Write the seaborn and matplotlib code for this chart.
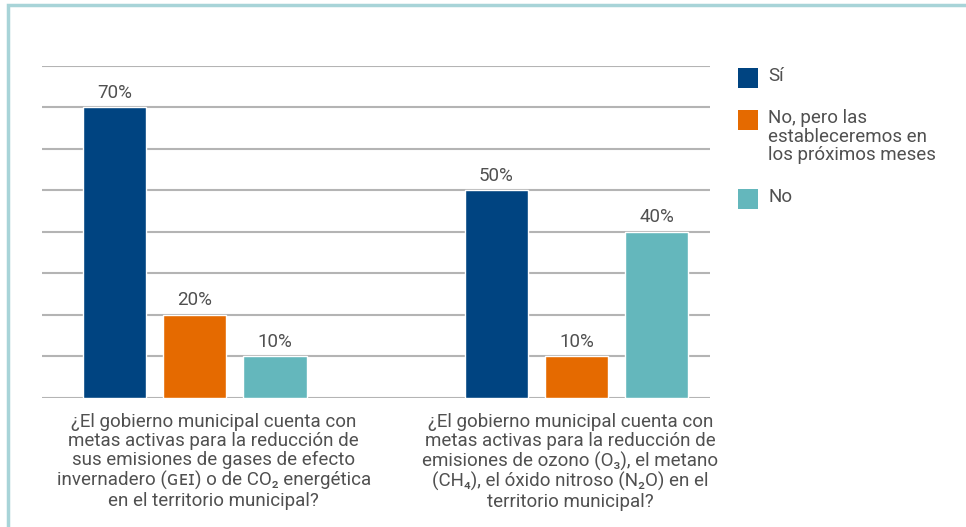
import pandas as pd
import matplotlib.pyplot as plt
import matplotlib.transforms as mtransforms
import seaborn as sns
from matplotlib.patches import Rectangle

# datos
preguntas = [
    "¿El gobierno municipal cuenta con\nmetas activas para la reducción de\nsus emisiones de gases de efecto\ninvernadero (ɢᴇɪ) o de CO₂ energética\nen el territorio municipal?",
    "¿El gobierno municipal cuenta con\nmetas activas para la reducción de\nemisiones de ozono (O₃), el metano\n(CH₄), el óxido nitroso (N₂O) en el\nterritorio municipal?",
]
respuestas = ["Sí", "No, pero las\nestableceremos en\nlos próximos meses", "No"]
valores_p1 = [70, 20, 10]
valores_p2 = [50, 10, 40]
colores = ["#004481", "#E56A00", "#64B7BC"]

df = pd.DataFrame({
    "pregunta": [preguntas[0]] * 3 + [preguntas[1]] * 3,
    "respuesta": respuestas * 2,
    "valor": valores_p1 + valores_p2,
})

sns.set_style("white")
plt.rcParams["font.family"] = ["Roboto", "DejaVu Sans"]
texto = "#505050"
fs = 13.5

fig = plt.figure(figsize=(9.66, 5.27), dpi=100)
ax = fig.add_axes([0.0435, 0.2448, 0.735 - 0.0435, 0.8748 - 0.2448])

sns.barplot(data=df, x="pregunta", y="valor", hue="respuesta",
            order=preguntas, hue_order=respuestas, palette=colores,
            width=0.631, gap=0.215, saturation=1, legend=False, ax=ax)

for cont in ax.containers:
    ax.bar_label(cont, fmt="%d%%", padding=4, fontsize=fs, color=texto)

ax.set_ylim(0, 80)
ax.set_xlim(-0.400, 1.350)
ax.set_yticks(range(0, 81, 10))
ax.yaxis.grid(True, color="#b4b4b4", linewidth=1.5)
ax.set_axisbelow(True)
ax.tick_params(axis="y", left=False, labelleft=False)
ax.tick_params(axis="x", bottom=False, labelsize=fs, labelcolor=texto, pad=7)
# las etiquetas no están centradas exactamente bajo cada grupo
desplazamientos = [19, -6]
for lab, dx in zip(ax.get_xticklabels(), desplazamientos):
    lab.set_linespacing(1.1)
    lab.set_transform(lab.get_transform() +
                      mtransforms.ScaledTranslation(dx / 100, 0, fig.dpi_scale_trans))
for s in ax.spines.values():
    s.set_visible(False)
ax.set_xlabel("")
ax.set_ylabel("")

# leyenda: cuadrado alineado con la primera línea del texto
W, H = 966, 527
leg_top = [68, 110, 189]
for c, lab, top in zip(colores, respuestas, leg_top):
    fig.add_artist(Rectangle((738 / W, 1 - (top + 20) / H), 20 / W, 20 / H,
                             transform=fig.transFigure, facecolor=c,
                             edgecolor="none"))
    fig.text(768 / W, 1 - (top - 1) / H, lab, fontsize=fs, color=texto,
             va="top", ha="left", linespacing=1.05)

# marco exterior
fig.add_artist(Rectangle((8 / W, -0.05), 1.0, 1 - 5 / H + 0.05,
                         transform=fig.transFigure, fill=False,
                         edgecolor="#a8d4d8", linewidth=2.5))

fig.savefig("out.png", dpi=100)
